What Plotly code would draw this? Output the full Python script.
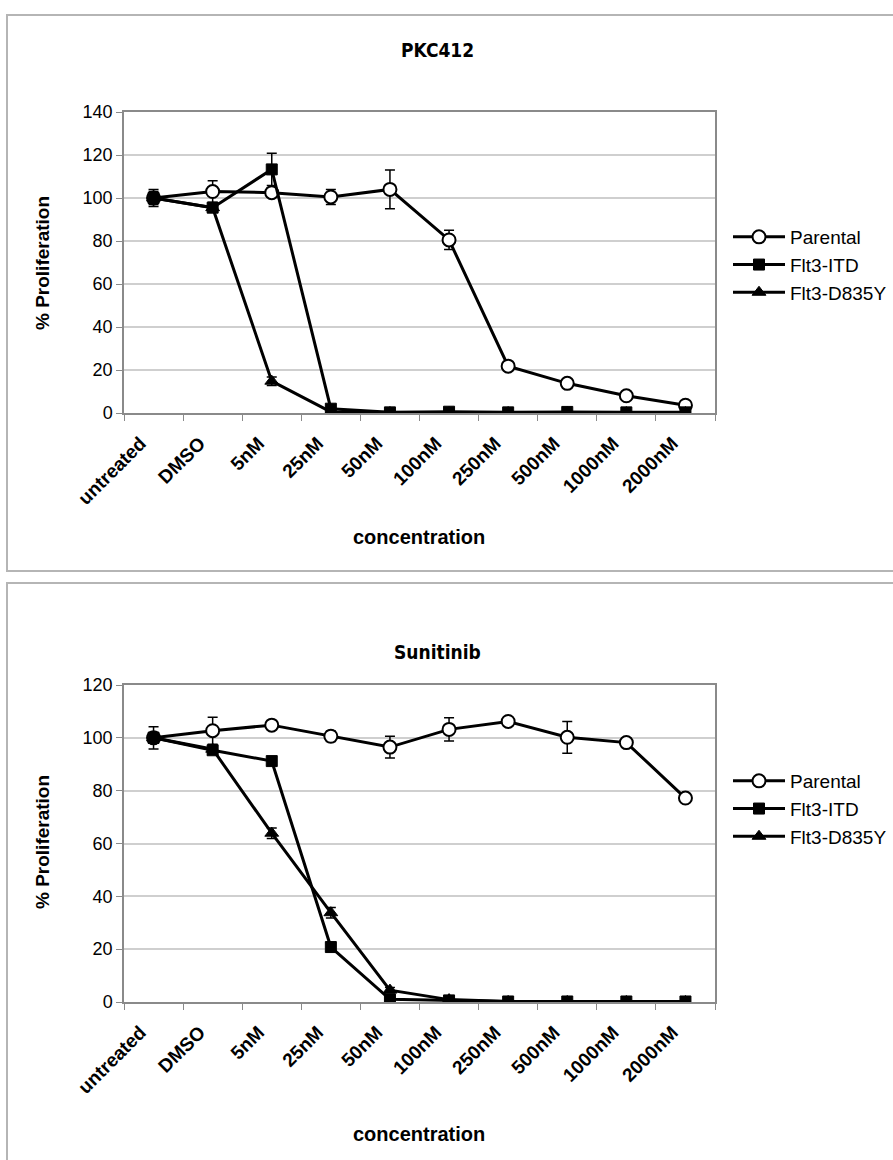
import plotly.graph_objects as go

categories = ["untreated", "DMSO", "5nM", "25nM", "50nM", "100nM", "250nM", "500nM", "1000nM", "2000nM"]
series_names = ["Parental", "Flt3-ITD", "Flt3-D835Y"]

# PKC412
pkc_parental = [100, 103, 102.5, 100.5, 104, 80.5, 21.8, 13.8, 8, 3.6]
pkc_parental_err = [4, 5, 2, 3.5, 9, 4.5, 1, 1, 1, 0.8]
pkc_itd = [100, 95.5, 113.3, 2, 0.3, 0.6, 0.3, 0.5, 0.3, 0.3]
pkc_itd_err = [3, 2, 7.5, 1, 0.5, 0.5, 0.3, 0.3, 0.3, 0.3]
pkc_d835y = [100, 95.5, 14.8, 0.5, 0.2, 0.2, 0.2, 0.2, 0.2, 0.2]
pkc_d835y_err = [2, 2, 2, 1, 0.3, 0.3, 0.3, 0.3, 0.3, 0.3]

# Sunitinib
sun_parental = [100, 102.7, 104.8, 100.6, 96.5, 103.2, 106.2, 100.2, 98.2, 77.2]
sun_parental_err = [4.2, 5.1, 1, 2, 4.1, 4.4, 1, 6, 1, 1]
sun_itd = [100, 95.3, 91.2, 20.8, 1, 0.6, 0.2, 0.2, 0.2, 0.2]
sun_itd_err = [2, 1.5, 1.5, 1.5, 1, 0.5, 0.3, 0.3, 0.3, 0.3]
sun_d835y = [100, 95.7, 63.9, 33.8, 4.5, 0.9, 0.2, 0.2, 0.2, 0.2]
sun_d835y_err = [2, 1.5, 2, 2, 1, 0.5, 0.3, 0.3, 0.3, 0.3]

W, H = 893, 1160
FONT = "Liberation Sans, Arial, sans-serif"

def py(px):
    return 1 - px / H

def pxx(px):
    return px / W

fig = go.Figure()

styles = [
    dict(symbol="circle", size=13, color="white", line=dict(color="black", width=2)),
    dict(symbol="square", size=11, color="black", line=dict(color="black", width=1)),
    dict(symbol="triangle-up", size=12, color="black", line=dict(color="black", width=1)),
]

panels = [
    ("x", "y", "legend", [pkc_parental, pkc_itd, pkc_d835y], [pkc_parental_err, pkc_itd_err, pkc_d835y_err]),
    ("x2", "y2", "legend2", [sun_parental, sun_itd, sun_d835y], [sun_parental_err, sun_itd_err, sun_d835y_err]),
]

for xa, ya, leg, vals, errs in panels:
    for name, v, e, st in zip(series_names, vals, errs, styles):
        fig.add_trace(go.Scatter(
            x=categories, y=v, name=name, mode="lines+markers",
            xaxis=xa, yaxis=ya, legend=leg,
            line=dict(color="black", width=3),
            marker=st,
            error_y=dict(type="data", array=e, visible=True, color="black", thickness=1.5, width=5),
        ))

xdom = [pxx(124), pxx(715)]
axis_common = dict(
    showline=True, linecolor="#8a8a8a", linewidth=1.5, mirror=True,
    ticks="outside", ticklen=6, tickcolor="#8a8a8a", automargin=False,
)
xaxis_common = dict(
    axis_common, type="category", categoryorder="array", categoryarray=categories,
    range=[-0.5, 9.5], tickson="boundaries", tickangle=-45, showgrid=False,
    ticklabelstandoff=10, ticklabelshift=-13,
    tickfont=dict(family=FONT, size=19, color="black", weight="bold"),
)
yaxis_common = dict(
    axis_common, dtick=20, showgrid=True, gridcolor="#cfcfcf", gridwidth=1.5,
    tickfont=dict(family=FONT, size=18, color="black"), zeroline=False,
)

LEGFONT = dict(family=FONT, size=19, color="black")
fig.update_layout(
    width=W, height=H, margin=dict(l=0, r=0, t=0, b=0, autoexpand=False),
    paper_bgcolor="white", plot_bgcolor="white", showlegend=True,
    xaxis=dict(xaxis_common, domain=xdom, anchor="y"),
    yaxis=dict(yaxis_common, domain=[py(413), py(112)], range=[0, 140], anchor="x"),
    xaxis2=dict(xaxis_common, domain=xdom, anchor="y2"),
    yaxis2=dict(yaxis_common, domain=[py(1002), py(685)], range=[0, 120], anchor="x2"),
    legend=dict(x=pxx(728), y=py(218), xanchor="left", yanchor="top",
                font=LEGFONT, bgcolor="rgba(0,0,0,0)", tracegroupgap=0, itemwidth=52),
    legend2=dict(x=pxx(728), y=py(762), xanchor="left", yanchor="top",
                 font=LEGFONT, bgcolor="rgba(0,0,0,0)", tracegroupgap=0, itemwidth=52),
)

# Panel borders
fig.add_shape(type="rect", xref="paper", yref="paper", x0=pxx(7), x1=1.02, y0=py(571), y1=py(15),
              line=dict(color="#b5b5b5", width=2), layer="below")
fig.add_shape(type="rect", xref="paper", yref="paper", x0=pxx(7), x1=1.02, y0=-0.02, y1=py(583),
              line=dict(color="#b5b5b5", width=2), layer="below")

titles = [("PKC412", 50, 537, 263), ("Sunitinib", 652, 1134, 842)]
for t, ty, cy, yy in titles:
    fig.add_annotation(text="<b>%s</b>" % t, xref="paper", yref="paper", x=pxx(437), y=py(ty),
                       showarrow=False, font=dict(family="DejaVu Sans Condensed, DejaVu Sans, sans-serif", size=19, color="black"),
                       xanchor="center", yanchor="middle")
    fig.add_annotation(text="<b>concentration</b>", xref="paper", yref="paper", x=pxx(419), y=py(cy),
                       showarrow=False, font=dict(family=FONT, size=20, color="black"),
                       xanchor="center", yanchor="middle")
    fig.add_annotation(text="<b>% Proliferation</b>", xref="paper", yref="paper", x=pxx(42), y=py(yy),
                       showarrow=False, textangle=-90, font=dict(family=FONT, size=19, color="black"),
                       xanchor="center", yanchor="middle")

fig.write_html("out.html", config={"displayModeBar": False},
               post_script="document.body.style.margin='0';document.body.style.overflow='hidden';")
